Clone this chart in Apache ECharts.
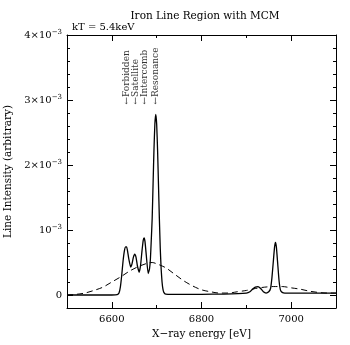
<!DOCTYPE html>
<html>
<head>
<meta charset="utf-8">
<script src="https://cdn.jsdelivr.net/npm/echarts@6/dist/echarts.min.js"></script>
<style>html,body{margin:0;padding:0;background:#fff;}#c{width:350px;height:345px;}</style>
</head>
<body>
<div id="c"></div>
<script>
// Values in units of 10^-3 (arbitrary line intensity)
const solidEnergy = [6500,6600,6612,6616,6619,6622,6625,6628,6631,6633,6635,6638,6642,6645,6648,6651,6654,6657,6661,6664,6667,6670,6672,6674,6677,6681,6684,6686,6688,6690,6692,6694,6696,6698,6700,6702,6704,6706,6708,6710,6712,6714,6716,6720,6760,6800,6850,6900,6908,6914,6920,6926,6932,6938,6944,6950,6954,6957,6960,6963,6965,6967,6970,6973,6976,6980,6986,7040,7100];
const solidIntensity = [0,0,0.005,0.03,0.12,0.3,0.52,0.68,0.74,0.74,0.68,0.55,0.43,0.48,0.58,0.63,0.58,0.45,0.35,0.45,0.66,0.84,0.88,0.82,0.6,0.33,0.4,0.55,0.85,1.18,1.71,2.24,2.63,2.78,2.63,2.24,1.71,1.18,0.72,0.4,0.2,0.09,0.04,0.015,0.01,0.01,0.015,0.03,0.05,0.09,0.12,0.13,0.1,0.05,0.03,0.05,0.1,0.26,0.5,0.74,0.81,0.74,0.48,0.22,0.08,0.04,0.03,0.03,0.03];
const dashedEnergy = [6500,6520,6540,6560,6580,6600,6620,6640,6660,6680,6690,6700,6720,6740,6760,6780,6800,6820,6840,6860,6880,6900,6920,6940,6960,6980,7000,7020,7040,7060,7080,7100];
const dashedIntensity = [0,0.01,0.03,0.07,0.12,0.2,0.28,0.37,0.44,0.49,0.5,0.48,0.42,0.32,0.22,0.14,0.08,0.05,0.03,0.03,0.05,0.07,0.1,0.12,0.13,0.13,0.11,0.09,0.06,0.04,0.03,0.03];
const xMajorTicks = [6600,6800,7000];
const yMajorTicks = [0,1,2,3,4];
const yTickLabels = ['0','10{s|\u22123}','2\u00d710{s|\u22123}','3\u00d710{s|\u22123}','4\u00d710{s|\u22123}'];
const lineNames = ['\u2190Forbidden','\u2190Satellite','\u2190Intercomb','\u2190Resonance'];
const lineEnergies = [6634,6653,6673,6698];
const labelBase = 2.93;

const FONT = 'DejaVu Serif';
const black = '#000';
const chart = echarts.init(document.getElementById('c'), null, {renderer:'canvas'});
const gridPos = {left:67, right:14, top:35, bottom:37, containLabel:false, outerBoundsMode:'none'};
const xr = {min:6500, max:7100};
const yr = {min:-0.2, max:4};
function majorX(pos, labels, gi){
  return Object.assign({type:'value', gridIndex:gi, position:pos}, xr, {
    axisLine:{show:true, onZero:false, lineStyle:{color:black, width:1}},
    axisTick:{show:true, inside:true, length:6, customValues:xMajorTicks, lineStyle:{color:black}},
    axisLabel:{show:labels, customValues:xMajorTicks, color:black, fontFamily:FONT, fontSize:10, margin:6,
      formatter:function(v){ return String(v); }},
    splitLine:{show:false},
    name: labels ? 'X\u2212ray energy [eV]' : '',
    nameLocation:'middle', nameGap:17,
    nameTextStyle:{color:black, fontFamily:FONT, fontSize:10.5}
  });
}
function minorX(pos, gi){
  return Object.assign({type:'value', gridIndex:gi, position:pos, interval:100}, xr, {
    axisLine:{show:false, onZero:false},
    axisTick:{show:true, inside:true, length:3, lineStyle:{color:black}},
    axisLabel:{show:false}, splitLine:{show:false}
  });
}
function majorY(pos, labels, gi){
  return Object.assign({type:'value', gridIndex:gi, position:pos}, yr, {
    axisLine:{show:true, onZero:false, lineStyle:{color:black, width:1}},
    axisTick:{show:true, inside:true, length:6, customValues:yMajorTicks, lineStyle:{color:black}},
    axisLabel:{show:labels, customValues:yMajorTicks, color:black, fontFamily:FONT, fontSize:10, margin:5,
      formatter:function(v){ const i = yMajorTicks.indexOf(Math.round(v)); return i>=0 ? yTickLabels[i] : ''; },
      rich:{s:{fontFamily:FONT, fontSize:7, verticalAlign:'top', lineHeight:12, color:black}}},
    splitLine:{show:false},
    name: labels ? 'Line Intensity (arbitrary)' : '',
    nameLocation:'middle', nameGap:50,
    nameTextStyle:{color:black, fontFamily:FONT, fontSize:10.5}
  });
}
function minorY(pos, gi){
  return Object.assign({type:'value', gridIndex:gi, position:pos, interval:0.2}, yr, {
    axisLine:{show:false, onZero:false},
    axisTick:{show:true, inside:true, length:3, lineStyle:{color:black}},
    axisLabel:{show:false}, splitLine:{show:false}
  });
}
const zip = (a,b)=>a.map((v,i)=>[v,b[i]]);
chart.setOption({
  animation:false,
  backgroundColor:'#fff',
  title:[
    {text:'Iron Line Region with MCM', left:200, textAlign:'center', top:6,
     textStyle:{fontFamily:FONT, fontSize:10.5, fontWeight:'normal', color:black}},
    {text:'kT = 5.4keV', left:72, top:22, padding:[0,0,0,0],
     textStyle:{fontFamily:FONT, fontSize:10, fontWeight:'normal', color:black}}
  ],
  grid:[Object.assign({show:false}, gridPos), Object.assign({show:false}, gridPos)],
  xAxis:[majorX('bottom', true, 0), majorX('top', false, 0), minorX('bottom', 1), minorX('top', 1)],
  yAxis:[majorY('left', true, 0), majorY('right', false, 0), minorY('left', 1), minorY('right', 1)],
  series:[
    {type:'line', xAxisIndex:0, yAxisIndex:0, data:zip(dashedEnergy, dashedIntensity), smooth:0.3,
     symbol:'none', lineStyle:{color:black, width:1, type:[6,4]}, silent:true},
    {type:'line', xAxisIndex:0, yAxisIndex:0, data:zip(solidEnergy, solidIntensity), smooth:0.15,
     symbol:'none', lineStyle:{color:black, width:1.3}, silent:true},
    {type:'scatter', xAxisIndex:0, yAxisIndex:0, symbolSize:0, silent:true,
     data:lineEnergies.map((e,i)=>({value:[e, labelBase], name:lineNames[i]})),
     label:{show:true, formatter:'{b}', position:[0,0], rotate:90, align:'left', verticalAlign:'middle',
       fontFamily:FONT, fontSize:9, color:black}}
  ]
});
</script>
</body>
</html>
